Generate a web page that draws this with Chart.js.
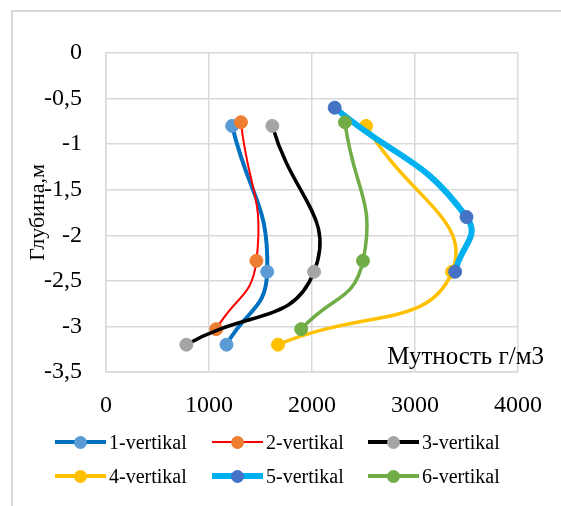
<!DOCTYPE html>
<html>
<head>
<meta charset="utf-8">
<script src="https://cdn.jsdelivr.net/npm/chart.js@4.4.1/dist/chart.umd.min.js"></script>
<style>
  html, body { margin: 0; padding: 0; background: #fff; }
  #wrap { position: relative; width: 561px; height: 506px; overflow: hidden; font-family: "Liberation Serif", "Times New Roman", serif; }
  #frame { position: absolute; left: 11px; top: 10px; width: 700px; height: 700px; border-left: 2px solid #d9d9d9; border-top: 2px solid #d9d9d9; }
  #chart { position: absolute; left: 0; top: 0; }
  #legend { position: absolute; left: 55px; top: 425px; display: grid; grid-template-columns: 157px 156px 156px; grid-auto-rows: 34px; }
  .item { display: flex; align-items: center; font-size: 20px; color: #000; }
  .icon { position: relative; width: 51px; height: 16px; margin-right: 3px; }
  .icon .ln { position: absolute; left: 0; right: 0; top: 50%; }
  .icon .dot { position: absolute; left: 50%; top: 50%; width: 13px; height: 13px; margin: -6.5px 0 0 -6.5px; border-radius: 50%; }
</style>
</head>
<body>
<div id="wrap">
  <div id="frame"></div>
  <canvas id="chart" width="561" height="506"></canvas>
  <div id="legend"></div>
</div>
<script>
// dados (x = mutnost, y = profundidade)
const seriesNames = ['1-vertikal', '2-vertikal', '3-vertikal', '4-vertikal', '5-vertikal', '6-vertikal'];

const v1x = [1225, 1565, 1170];
const v1y = [-0.8, -2.4, -3.2];
const v2x = [1310, 1460, 1070];
const v2y = [-0.76, -2.28, -3.03];
const v3x = [1615, 2020, 780];
const v3y = [-0.8, -2.4, -3.2];
const v4x = [2525, 3360, 1670];
const v4y = [-0.8, -2.4, -3.2];
const v5x = [2220, 3500, 3390];
const v5y = [-0.6, -1.8, -2.4];
const v6x = [2320, 2495, 1895];
const v6y = [-0.76, -2.28, -3.03];

const xTicks = [0, 1000, 2000, 3000, 4000];
const yTicks = [0, -0.5, -1, -1.5, -2, -2.5, -3, -3.5];

const xTitle = 'Мутность г/м3';
const yTitle = 'Глубина,м';

const allX = [v1x, v2x, v3x, v4x, v5x, v6x];
const allY = [v1y, v2y, v3y, v4y, v5y, v6y];

// estilos de cada serie
const lineColors = ['#0070C0', '#FF0000', '#000000', '#FFC000', '#00B0F0', '#70AD47'];
const dotColors = ['#5B9BD5', '#ED7D31', '#A5A5A5', '#FFC000', '#4472C4', '#70AD47'];
const lineWidths = [4, 2, 3.5, 3.5, 6, 3.5];

const font = '"Liberation Serif", "Times New Roman", serif';

const datasets = seriesNames.map((name, i) => ({
  label: name,
  data: allX[i].map((x, k) => ({ x: x, y: allY[i][k] })),
  showLine: true,
  tension: 0.5,
  borderColor: lineColors[i],
  borderWidth: lineWidths[i],
  backgroundColor: dotColors[i],
  pointBackgroundColor: dotColors[i],
  pointBorderColor: dotColors[i],
  pointBorderWidth: 1,
  pointRadius: 6.5,
  order: seriesNames.length - i
}));

// titulo do eixo x fica dentro da area do grafico
const xTitlePlugin = {
  id: 'xTitleInside',
  afterDraw(chart) {
    const { ctx, chartArea } = chart;
    ctx.save();
    ctx.font = '25px ' + font;
    ctx.fillStyle = '#000';
    ctx.textAlign = 'right';
    ctx.textBaseline = 'middle';
    ctx.fillText(xTitle, chartArea.right + 26, chartArea.bottom - 15);
    ctx.restore();
  }
};

const grid = { color: '#d9d9d9', lineWidth: 1.5, drawTicks: false };

new Chart(document.getElementById('chart'), {
  type: 'scatter',
  data: { datasets: datasets },
  plugins: [xTitlePlugin],
  options: {
    responsive: false,
    animation: false,
    layout: { padding: { top: 53, right: 33, left: 0, bottom: 0 } },
    plugins: { legend: { display: false }, tooltip: { enabled: false } },
    scales: {
      x: {
        type: 'linear',
        min: xTicks[0],
        max: xTicks[xTicks.length - 1],
        afterBuildTicks: s => { s.ticks = xTicks.map(v => ({ value: v })); },
        afterFit: s => { s.height = 134; },
        grid: grid,
        border: { color: '#d9d9d9', width: 1.5 },
        ticks: {
          color: '#000',
          font: { family: font, size: 24 },
          padding: 19,
          maxRotation: 0,
          callback: v => String(v)
        }
      },
      y: {
        type: 'linear',
        min: -3.5,
        max: 0,
        afterBuildTicks: s => { s.ticks = yTicks.map(v => ({ value: v })); },
        afterFit: s => { s.width = 106; },
        grid: grid,
        border: { color: '#d9d9d9', width: 1.5 },
        ticks: {
          color: '#000',
          font: { family: font, size: 24 },
          padding: 24,
          callback: v => String(v).replace('.', ',')
        },
        title: {
          display: true,
          text: yTitle,
          color: '#000',
          font: { family: font, size: 22 },
          padding: { top: 25 }
        }
      }
    }
  }
});

// legenda em html
const legend = document.getElementById('legend');
legend.innerHTML = seriesNames
  .map((name, i) => `<div class="item"><div class="icon"><div class="ln" style="background:${lineColors[i]};height:${lineWidths[i]}px;margin-top:-${lineWidths[i] / 2}px"></div><div class="dot" style="background:${dotColors[i]}"></div></div><span>${name}</span></div>`)
  .join('');
</script>
</body>
</html>
